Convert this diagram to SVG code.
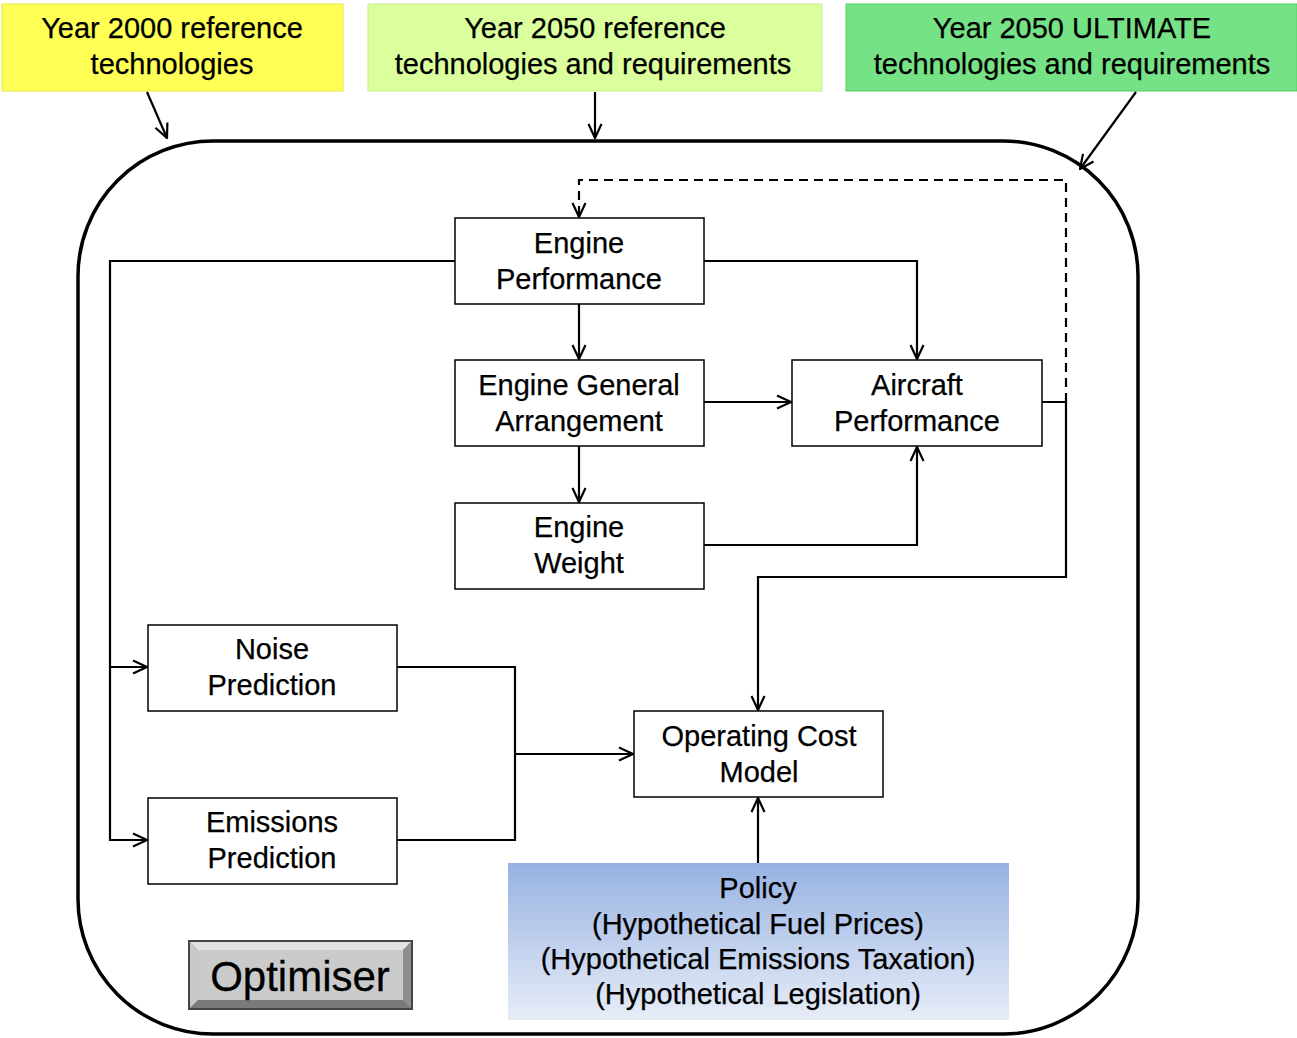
<svg xmlns="http://www.w3.org/2000/svg" width="1297" height="1038" viewBox="0 0 1297 1038">
<defs>
<style>
.t{font-family:"Liberation Sans",Arial,sans-serif;font-size:29px;fill:#000;text-anchor:middle;stroke:#000;stroke-width:0.25}
.n{fill:#fff;stroke:#000;stroke-width:1.5}
.c{fill:none;stroke:#000;stroke-width:2.2}
</style>
<marker id="a" viewBox="0 0 16 16" refX="15" refY="8" markerWidth="16" markerHeight="16" markerUnits="userSpaceOnUse" orient="auto">
<path d="M1,1.5 L15,8 L1,14.5" fill="none" stroke="#000" stroke-width="2.2"/>
</marker>
<linearGradient id="pg" x1="0" y1="0" x2="0" y2="1">
<stop offset="0" stop-color="#97B2E2"/>
<stop offset="1" stop-color="#E7EDF8"/>
</linearGradient>
</defs>
<rect width="1297" height="1038" fill="#fff"/>
<rect x="78" y="141" width="1060" height="893" rx="135" ry="135" fill="none" stroke="#000" stroke-width="3.5"/>
<g id="y2000"><rect x="2" y="4" width="341" height="87" fill="#FFFF55" stroke="#E8E840" stroke-width="1"/>
<text class="t" x="172" y="38">Year 2000 reference</text><text class="t" x="172" y="74">technologies</text></g>
<g id="y2050"><rect x="368" y="4" width="454" height="87" fill="#DAFF9C" stroke="#C5EE88" stroke-width="1"/>
<text class="t" x="595" y="38">Year 2050 reference</text><text class="t" x="593" y="74">technologies and requirements</text></g>
<g id="y2050u"><rect x="846" y="4" width="451" height="87" fill="#76E286" stroke="#4FD063" stroke-width="1"/>
<text class="t" x="1072" y="38">Year 2050 ULTIMATE</text><text class="t" x="1072" y="74">technologies and requirements</text></g>
<g id="connectors">
<path class="c" d="M147,92 L167,138" marker-end="url(#a)"/>
<path class="c" d="M595,92 L595,138" marker-end="url(#a)"/>
<path class="c" d="M1136,92 L1080,169" marker-end="url(#a)"/>
<path class="c" d="M455,261 H110 V840 H147" marker-end="url(#a)"/>
<path class="c" d="M110,667 H147" marker-end="url(#a)"/>
<path class="c" d="M704,261 H917 V359" marker-end="url(#a)"/>
<path class="c" d="M579,304 V359" marker-end="url(#a)"/>
<path class="c" d="M704,402 H791" marker-end="url(#a)"/>
<path class="c" d="M579,446 V502" marker-end="url(#a)"/>
<path class="c" d="M704,545 H917 V447" marker-end="url(#a)"/>
<path class="c" d="M1042,402 H1066 V577 H758 V710" marker-end="url(#a)"/>
<path class="c" d="M1066,402 V180 H579 V217" stroke-dasharray="9,6" marker-end="url(#a)"/>
<path class="c" d="M397,667 H515 V840 H397"/>
<path class="c" d="M515,754 H633" marker-end="url(#a)"/>
<path class="c" d="M758,863 V798" marker-end="url(#a)"/>
</g>
<g id="ep"><rect class="n" x="455" y="218" width="249" height="86"/><text class="t" x="579" y="253">Engine</text><text class="t" x="579" y="289">Performance</text></g>
<g id="ega"><rect class="n" x="455" y="360" width="249" height="86"/><text class="t" x="579" y="395">Engine General</text><text class="t" x="579" y="431">Arrangement</text></g>
<g id="ew"><rect class="n" x="455" y="503" width="249" height="86"/><text class="t" x="579" y="537">Engine</text><text class="t" x="579" y="573">Weight</text></g>
<g id="ap"><rect class="n" x="792" y="360" width="250" height="86"/><text class="t" x="917" y="395">Aircraft</text><text class="t" x="917" y="431">Performance</text></g>
<g id="np"><rect class="n" x="148" y="625" width="249" height="86"/><text class="t" x="272" y="659">Noise</text><text class="t" x="272" y="695">Prediction</text></g>
<g id="emp"><rect class="n" x="148" y="798" width="249" height="86"/><text class="t" x="272" y="832">Emissions</text><text class="t" x="272" y="868">Prediction</text></g>
<g id="ocm"><rect class="n" x="634" y="711" width="249" height="86"/><text class="t" x="759" y="746">Operating Cost</text><text class="t" x="759" y="782">Model</text></g>
<g id="policy"><rect x="508" y="863" width="501" height="157" fill="url(#pg)"/>
<text class="t" x="758" y="898">Policy</text>
<text class="t" x="758" y="934">(Hypothetical Fuel Prices)</text>
<text class="t" x="758" y="969">(Hypothetical Emissions Taxation)</text>
<text class="t" x="758" y="1004">(Hypothetical Legislation)</text></g>
<g id="optimiser">
<rect x="189" y="941" width="223" height="68" fill="#A8A8A8" stroke="#444" stroke-width="2"/>
<polygon points="190,942 411,942 403,950 198,950" fill="#E2E2E2"/>
<polygon points="190,942 198,950 198,1000 190,1008" fill="#C8C8C8"/>
<polygon points="411,942 411,1008 403,1000 403,950" fill="#8E8E8E"/>
<polygon points="190,1008 198,1000 403,1000 411,1008" fill="#7A7A7A"/>
<rect x="198" y="950" width="205" height="50" fill="#CACACA"/>
<text class="t" x="300" y="991" style="font-size:42px;stroke-width:0.3">Optimiser</text>
</g>
</svg>
